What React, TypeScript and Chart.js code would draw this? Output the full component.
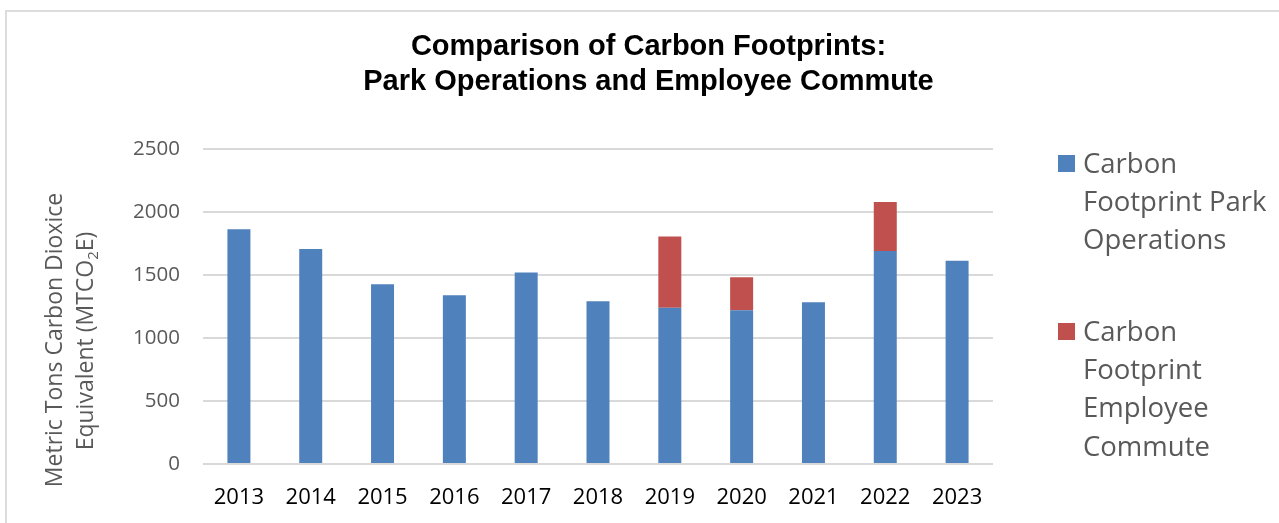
import React, { useEffect, useRef } from 'react';
import { Chart, registerables, layouts } from 'chart.js';

Chart.register(...registerables);

const years = ['2013', '2014', '2015', '2016', '2017', '2018', '2019', '2020', '2021', '2022', '2023'];
const parkOperations = [1862, 1706, 1426, 1339, 1518, 1291, 1240, 1220, 1283, 1690, 1613];
const employeeCommute = [null, null, null, null, null, null, 564, 262, null, 389, null];
const seriesLabels = ['Carbon Footprint Park Operations', 'Carbon Footprint Employee Commute'];
const seriesColors = ['#4f81bd', '#c0504d'];
const yMin = 0;
const yMax = 2500;
const yStep = 500;
const titleLines = ['Comparison of Carbon Footprints:', 'Park Operations and Employee Commute'];
const yTitleLine1 = 'Metric Tons Carbon Dioxice';
const yTitleLine2 = ['Equivalent (MTCO', '2', 'E)'];

const FONT = "'Open Sans', 'Noto Sans', sans-serif";
const GRAY = '#595959';
const LEGEND_SPACE = 286;

function wrapText(ctx: CanvasRenderingContext2D, text: string, maxWidth: number): string[] {
  const words = text.split(' ');
  const lines: string[] = [];
  let cur = '';
  for (const w of words) {
    const test = cur ? cur + ' ' + w : w;
    if (cur && ctx.measureText(test).width > maxWidth) {
      lines.push(cur);
      cur = w;
    } else {
      cur = test;
    }
  }
  if (cur) lines.push(cur);
  return lines;
}

const sideLegend = {
  id: 'sideLegend',
  beforeInit(chart: any) {
    const spacer: any = {
      position: 'right',
      weight: 1000,
      fullSize: false,
      options: {},
      left: 0,
      top: 0,
      right: 0,
      bottom: 0,
      width: 0,
      height: 0,
      isHorizontal() {
        return false;
      },
      update(maxWidth: number, maxHeight: number) {
        this.width = LEGEND_SPACE;
        this.height = maxHeight;
        return LEGEND_SPACE;
      },
      getPadding() {
        return { top: 0, left: 0, right: 0, bottom: 0 };
      },
      draw() {},
    };
    layouts.addBox(chart, spacer);
  },
  afterDraw(chart: any) {
    const ctx: CanvasRenderingContext2D = chart.ctx;
    const right = chart.chartArea.right;
    const boxX = right + 65;
    const textX = boxX + 25;
    const lineStep = 38.2;
    ctx.save();
    ctx.font = `27.5px ${FONT}`;
    ctx.textAlign = 'left';
    ctx.textBaseline = 'alphabetic';
    let baseline = 173;
    chart.data.datasets.forEach((ds: any) => {
      const lines = wrapText(ctx, ds.label, 200);
      ctx.fillStyle = ds.backgroundColor;
      ctx.fillRect(boxX, baseline - 18, 17, 17);
      ctx.fillStyle = GRAY;
      lines.forEach((l, j) => ctx.fillText(l, textX, baseline + j * lineStep));
      baseline += lines.length * lineStep + 53.4;
    });
    ctx.restore();
  },
};

const yAxisTitle = {
  id: 'yAxisTitle',
  afterDraw(chart: any) {
    const ctx: CanvasRenderingContext2D = chart.ctx;
    const cy = 340;
    const mainFont = `23px ${FONT}`;
    const subFont = `15px ${FONT}`;
    ctx.save();
    ctx.fillStyle = GRAY;
    ctx.textBaseline = 'alphabetic';
    ctx.save();
    ctx.translate(44, cy);
    ctx.rotate(-Math.PI / 2);
    ctx.font = mainFont;
    ctx.textAlign = 'center';
    ctx.fillText(yTitleLine1, 0, 0);
    ctx.restore();
    ctx.save();
    ctx.translate(75, cy + 1);
    ctx.rotate(-Math.PI / 2);
    ctx.textAlign = 'left';
    ctx.font = mainFont;
    const w1 = ctx.measureText(yTitleLine2[0]).width;
    const w3 = ctx.measureText(yTitleLine2[2]).width;
    ctx.font = subFont;
    const w2 = ctx.measureText(yTitleLine2[1]).width;
    let x = -(w1 + w2 + w3) / 2;
    ctx.font = mainFont;
    ctx.fillText(yTitleLine2[0], x, 0);
    x += w1;
    ctx.font = subFont;
    ctx.fillText(yTitleLine2[1], x, 5);
    x += w2;
    ctx.font = mainFont;
    ctx.fillText(yTitleLine2[2], x, 0);
    ctx.restore();
    ctx.restore();
  },
};

export default function App() {
  const canvasRef = useRef<HTMLCanvasElement | null>(null);

  useEffect(() => {
    document.body.style.margin = '0';
    const canvas = canvasRef.current;
    if (!canvas) return;
    const chart = new Chart(canvas, {
      type: 'bar',
      data: {
        labels: years,
        datasets: [
          {
            label: seriesLabels[0],
            data: parkOperations,
            backgroundColor: seriesColors[0],
            barPercentage: 0.32,
            categoryPercentage: 1,
          },
          {
            label: seriesLabels[1],
            data: employeeCommute as any,
            backgroundColor: seriesColors[1],
            barPercentage: 0.32,
            categoryPercentage: 1,
          },
        ],
      },
      options: {
        responsive: false,
        animation: false,
        devicePixelRatio: 1,
        layout: { padding: 0 },
        plugins: {
          legend: { display: false },
          tooltip: { enabled: false },
          title: {
            display: true,
            text: titleLines,
            color: '#000',
            font: { family: "'Liberation Sans', Arial, sans-serif", size: 29, weight: 'bold', lineHeight: 1.2 },
            padding: { top: 30, bottom: 49.2 },
          },
        },
        scales: {
          x: {
            stacked: true,
            grid: { display: false, drawTicks: false },
            border: { display: false },
            ticks: {
              color: '#000',
              font: { family: FONT, size: 22 },
              padding: 20.5,
              maxRotation: 0,
              autoSkip: false,
            },
            afterFit(scale: any) {
              scale.height = 59;
            },
          },
          y: {
            stacked: true,
            min: yMin,
            max: yMax,
            grid: { color: '#d9d9d9', lineWidth: 2, drawTicks: false },
            border: { display: false },
            ticks: {
              stepSize: yStep,
              color: GRAY,
              font: { family: FONT, size: 20.5 },
              padding: 23,
              callback: (v: any) => String(v),
            },
            afterFit(scale: any) {
              scale.width = 185;
            },
          },
        },
      },
      plugins: [sideLegend, yAxisTitle],
    });
    return () => chart.destroy();
  }, []);

  return (
    <div style={{ position: 'fixed', left: 0, top: 0, width: 1279, height: 523, background: '#fff', overflow: 'hidden' }}>
      <div
        style={{
          position: 'absolute',
          left: 5,
          top: 10,
          right: -10,
          bottom: -10,
          borderLeft: '2px solid #dcdcdc',
          borderTop: '2px solid #dcdcdc',
        }}
      />
      <canvas
        ref={canvasRef}
        width={1261}
        height={523}
        style={{ position: 'absolute', left: 18, top: 0, width: 1261, height: 523 }}
      />
    </div>
  );
}
